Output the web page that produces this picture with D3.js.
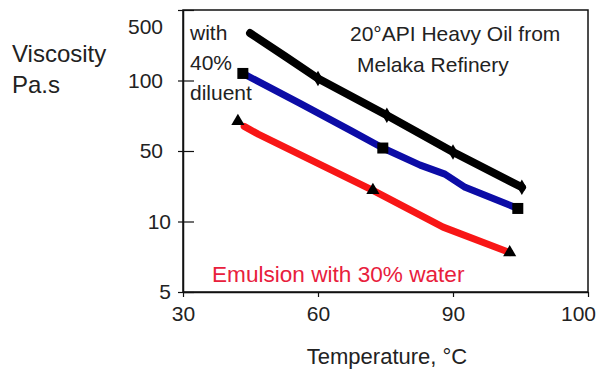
<!DOCTYPE html>
<html><head><meta charset="utf-8">
<script src="https://cdn.jsdelivr.net/npm/d3@7"></script>
<style>body{margin:0;background:#fff}svg{display:block}text{font-family:"Liberation Sans",Arial,sans-serif;fill:#222}</style>
</head><body>
<svg id="c" width="596" height="373"></svg>
<script>
// axis ticks (equally spaced as drawn in the original)
const xTicks = [30, 60, 90, 100];
const yTicks = [5, 10, 50, 100, 500];

// Heavy oil with 40% diluent (black, diamonds)
const blackT = [44.9, 52.7, 60.0, 75.3, 90.0, 95.1];
const blackV = [369, 237, 111, 75.4, 49.4, 29.4];
const blackMarkT = [60.0, 75.3, 90.0, 95.1];
const blackMarkV = [111, 75.4, 49.4, 29.4];

// blue series (squares)
const blueT = [43.3, 56.0, 67.1, 74.4, 82.7, 88.2, 90.9, 94.8];
const blueV = [140, 83.8, 64.8, 52.1, 42.0, 36.9, 29.4, 17.4];
const blueMarkT = [43.3, 74.4, 94.8];
const blueMarkV = [140, 52.1, 17.4];

// Emulsion with 30% water (red, triangles)
const redT = [43.6, 46.7, 72.2, 87.8, 94.2];
const redV = [67.5, 62.0, 27.7, 9.6, 7.8];
const redMarkT = [42.2, 72.2, 94.2];
const redMarkV = [71.1, 27.7, 7.8];

const svg = d3.select("#c");
const L = 183, R = 588, T = 10, B = 292;
const x = d3.scaleLinear().domain(xTicks).range(xTicks.map((d, i) => L + i * (R - L) / 3));
const y = d3.scaleLinear().domain(yTicks).range(yTicks.map((d, i) => B - i * (B - T) / 4));

// frame
svg.append("rect").attr("x", L).attr("y", T).attr("width", R - L).attr("height", B - T)
  .attr("fill", "none").attr("stroke", "#111").attr("stroke-width", 1.5);

// x axis
const gx = svg.append("g").attr("transform", `translate(0,${B})`)
  .call(d3.axisBottom(x).tickValues(xTicks).tickSize(5).tickSizeOuter(0).tickPadding(9));
gx.select(".domain").attr("stroke", "#111").attr("stroke-width", 1.5);
gx.selectAll(".tick line").attr("stroke", "#111").attr("stroke-width", 1.2);
gx.selectAll(".tick text").style("font-size", "21px").attr("fill", "#222")
  .attr("dx", d => d === 100 ? -10 : 0);

// y axis
const gy = svg.append("g").attr("transform", `translate(${L},0)`)
  .call(d3.axisLeft(y).tickValues(yTicks).tickSize(5).tickSizeOuter(0).tickPadding(15));
gy.select(".domain").attr("stroke", "#111").attr("stroke-width", 1.5);
gy.selectAll(".tick line").attr("stroke", "#111").attr("stroke-width", 1.2);
gy.selectAll(".tick").append("line").attr("x1", 0).attr("x2", 11).attr("stroke", "#111").attr("stroke-width", 1.2);
gy.selectAll(".tick text").style("font-size", "21px").attr("fill", "#222")
  .attr("dx", d => d <= 10 ? 8 : 0).attr("dy", d => d === 500 ? "1.1em" : "0.32em");

// lines
const line = d3.line().x(d => x(d[0])).y(d => y(d[1]));
function series(ts, vs, color, w) {
  svg.append("path").datum(ts.map((t, i) => [t, vs[i]])).attr("d", line)
    .attr("fill", "none").attr("stroke", color).attr("stroke-width", w)
    .attr("stroke-linejoin", "round").attr("stroke-linecap", "round");
}
series(blackT, blackV, "#000", 8);
series(blueT, blueV, "#0c0ca6", 7);
series(redT, redV, "#f81616", 7);

// markers
svg.selectAll(".dm").data(blackMarkT.map((t, i) => [t, blackMarkV[i]])).join("path")
  .attr("transform", d => `translate(${x(d[0])},${y(d[1])})`)
  .attr("d", d3.symbol(d3.symbolDiamond, 70)).attr("fill", "#000");
svg.selectAll(".sq").data(blueMarkT.map((t, i) => [t, blueMarkV[i]])).join("rect")
  .attr("x", d => x(d[0]) - 5.5).attr("y", d => y(d[1]) - 5.5).attr("width", 11).attr("height", 11).attr("fill", "#000");
svg.selectAll(".tr").data(redMarkT.map((t, i) => [t, redMarkV[i]])).join("path")
  .attr("transform", d => `translate(${x(d[0])},${y(d[1])})`)
  .attr("d", d3.symbol(d3.symbolTriangle, 75)).attr("fill", "#000");

// texts
const yl = svg.append("text").attr("x", 12).style("font-size", "24px");
yl.append("tspan").attr("x", 12).attr("y", 62).text("Viscosity");
yl.append("tspan").attr("x", 12).attr("y", 93).text("Pa.s");

svg.append("text").attr("x", 387).attr("y", 364).attr("text-anchor", "middle")
  .style("font-size", "22px").text("Temperature, °C");

svg.append("text").attr("x", 350).attr("y", 41).style("font-size", "21px").text("20°API Heavy Oil from");
svg.append("text").attr("x", 357).attr("y", 72).style("font-size", "21px").text("Melaka Refinery");

const dl = svg.append("text").style("font-size", "21px");
[["with", 40], ["40%", 70], ["diluent", 100]].forEach(([s, yy]) =>
  dl.append("tspan").attr("x", 190).attr("y", yy).text(s));

svg.append("text").attr("x", 212).attr("y", 282).style("font-size", "22.6px")
  .style("fill", "#e8203c").text("Emulsion with 30% water");
</script>
</body></html>
